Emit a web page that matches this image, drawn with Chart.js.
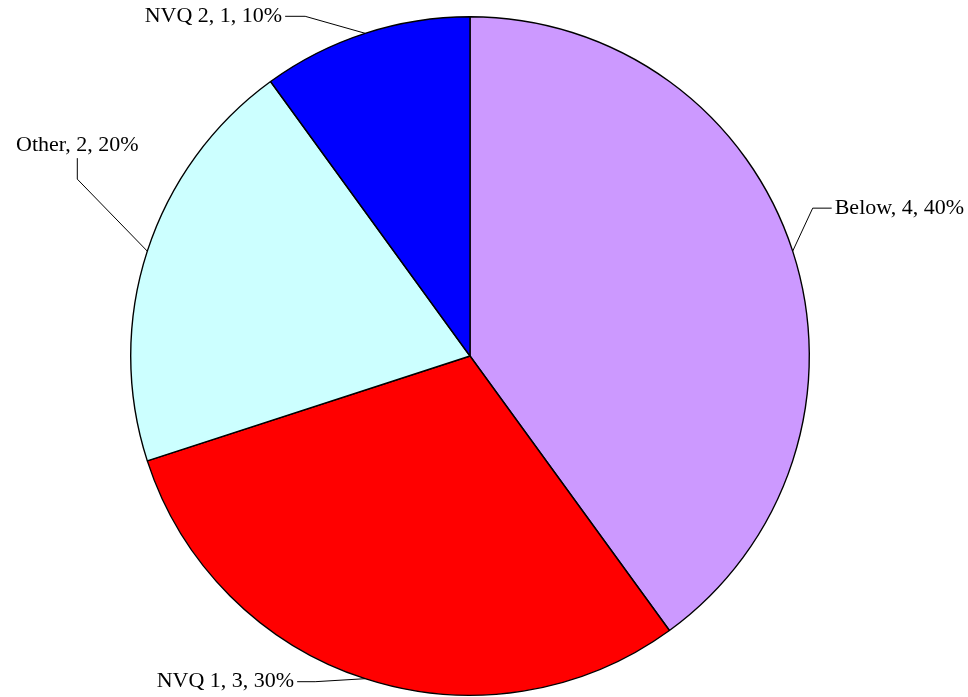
<!DOCTYPE html>
<html>
<head>
<meta charset="utf-8">
<script src="https://cdn.jsdelivr.net/npm/chart.js@4"></script>
<style>
  html, body { margin: 0; padding: 0; background: #fff; }
  #wrap { width: 968px; height: 697px; }
</style>
</head>
<body>
<div id="wrap"><canvas id="pieChart"></canvas></div>
<script>
// data
const categories = ['Below', 'NVQ 1', 'Other', 'NVQ 2'];
const counts = [4, 3, 2, 1];
const percents = [40, 30, 20, 10];
const sliceColors = ['#CC99FF', '#FF0000', '#CCFFFF', '#0000FF'];

// leader line shape for each label: elbow offset from the slice edge, then a short tail
const leaders = [
  { dx: 20, dy: -43, tx: 19, ty: 0, align: 'left' },
  { dx: -50, dy: 3, tx: -18, ty: 0, align: 'right' },
  { dx: -70, dy: -72, tx: 0, ty: -21, align: 'center' },
  { dx: -60, dy: -17, tx: -20, ty: 0, align: 'right' }
];

const sliceLabels = {
  id: 'sliceLabels',
  afterDraw(chart) {
    const ctx = chart.ctx;
    const meta = chart.getDatasetMeta(0);
    ctx.save();
    ctx.font = '22px "Liberation Serif", "Times New Roman", serif';
    ctx.fillStyle = '#000';
    ctx.strokeStyle = '#000';
    ctx.lineWidth = 1;
    meta.data.forEach((arc, i) => {
      const p = arc.getProps(['x', 'y', 'startAngle', 'endAngle', 'outerRadius'], true);
      const mid = (p.startAngle + p.endAngle) / 2;
      const ex = p.x + Math.cos(mid) * p.outerRadius;
      const ey = p.y + Math.sin(mid) * p.outerRadius;
      const l = leaders[i];
      const bx = ex + l.dx, by = ey + l.dy;
      const cx = bx + l.tx, cy = by + l.ty;
      ctx.beginPath();
      ctx.moveTo(ex, ey);
      ctx.lineTo(bx, by);
      ctx.lineTo(cx, cy);
      ctx.stroke();
      const text = categories[i] + ', ' + counts[i] + ', ' + percents[i] + '%';
      ctx.textAlign = l.align;
      if (l.align === 'left') {
        ctx.textBaseline = 'middle';
        ctx.fillText(text, cx + 3, cy);
      } else if (l.align === 'right') {
        ctx.textBaseline = 'middle';
        ctx.fillText(text, cx - 3, cy);
      } else {
        ctx.textBaseline = 'bottom';
        ctx.fillText(text, cx, cy - 2);
      }
    });
    ctx.restore();
  }
};

new Chart(document.getElementById('pieChart'), {
  type: 'pie',
  data: {
    labels: categories,
    datasets: [{
      data: counts,
      backgroundColor: sliceColors,
      borderColor: '#000',
      borderWidth: 1.4
    }]
  },
  options: {
    responsive: true,
    maintainAspectRatio: false,
    animation: false,
    layout: { padding: { top: 16, bottom: 1, left: 0, right: 28 } },
    plugins: {
      legend: { display: false },
      tooltip: { enabled: false }
    }
  },
  plugins: [sliceLabels]
});
</script>
</body>
</html>
